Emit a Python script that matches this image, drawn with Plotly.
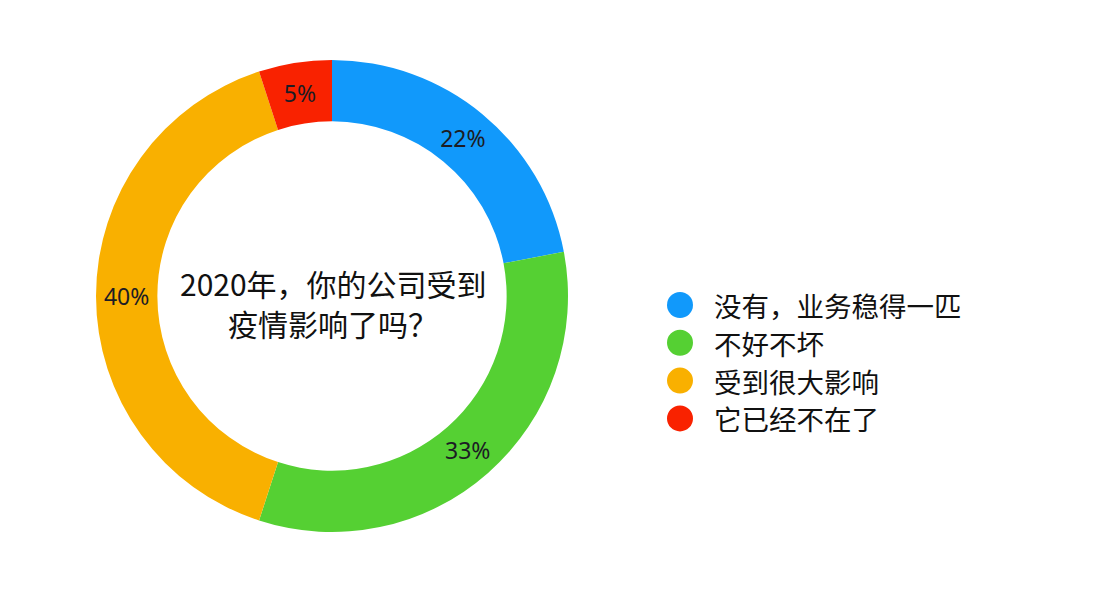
import plotly.graph_objects as go

labels = ["没有，业务稳得一匹", "不好不坏", "受到很大影响", "它已经不在了"]
values = [22, 33, 40, 5]
colors = ["#1199fb", "#55d033", "#f9b000", "#f92200"]
center_title_lines = ["2020年，你的公司受到", "疫情影响了吗？"]

W, H = 1116, 590
OFF = 8  # page body margin offset
cx, cy, R = 332 - OFF, 296 - OFF, 236

fig = go.Figure()
fig.add_trace(go.Pie(
    labels=labels,
    values=values,
    hole=0.74,
    sort=False,
    direction="clockwise",
    rotation=0,
    marker=dict(colors=colors, line=dict(width=0)),
    texttemplate="%{value}%",
    textposition="inside",
    insidetextorientation="horizontal",
    textfont=dict(family="Noto Sans, Open Sans, sans-serif", size=23, color="#1c1c24"),
    showlegend=False,
    hoverinfo="label+percent",
    domain=dict(x=[(cx - R) / W, (cx + R) / W], y=[(H - cy - R) / H, (H - cy + R) / H]),
))

annotations = []
for j, line in enumerate(center_title_lines):
    annotations.append(dict(
        text=line, x=(cx + 1) / W, y=1 - (283 + 40 * j - OFF) / H, xref="paper", yref="paper",
        showarrow=False, xanchor="center", yanchor="middle", align="center",
        height=36, valign="middle", borderpad=0,
        font=dict(family="Noto Sans CJK SC, sans-serif", size=30, color="#111111"),
    ))
shapes = []
leg_x, leg_y0, leg_dy = 680 - OFF, 305 - OFF, 37.8
for i, (lab, col) in enumerate(zip(labels, colors)):
    yy = 1 - (leg_y0 + i * leg_dy) / H
    shapes.append(dict(
        type="circle", xref="paper", yref="paper", xsizemode="pixel", ysizemode="pixel",
        xanchor=leg_x / W, yanchor=yy, x0=-13, x1=13, y0=-13, y1=13,
        fillcolor=col, line=dict(width=0),
    ))
    annotations.append(dict(
        text=lab, x=(712 - OFF) / W, y=yy, xref="paper", yref="paper", showarrow=False,
        xanchor="left", yanchor="middle",
        font=dict(family="Noto Sans CJK SC, sans-serif", size=27.5, color="#111111"),
    ))

fig.update_layout(
    width=W, height=H,
    margin=dict(l=0, r=0, t=0, b=0),
    paper_bgcolor="#ffffff",
    plot_bgcolor="#ffffff",
    annotations=annotations,
    shapes=shapes,
)
fig.write_html("out.html")
